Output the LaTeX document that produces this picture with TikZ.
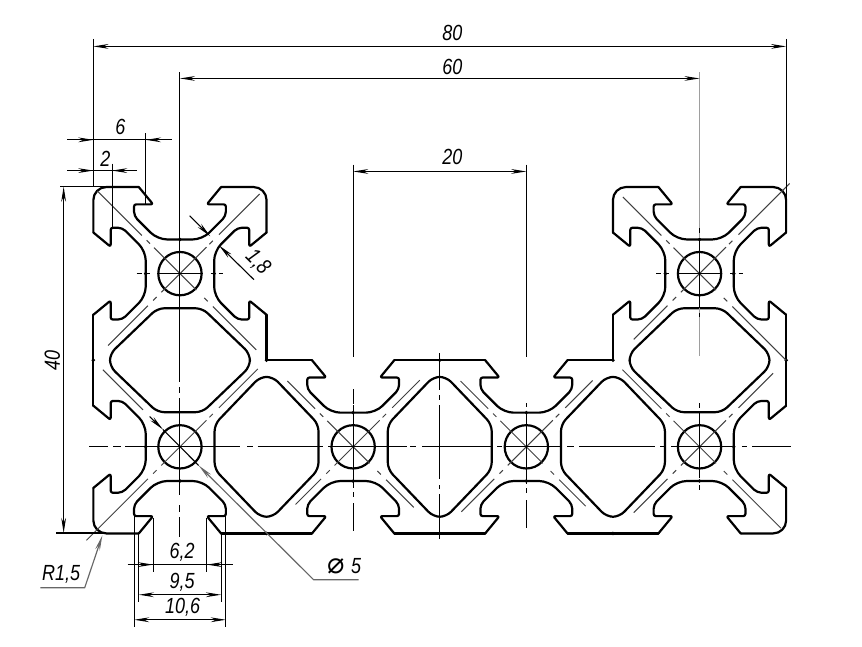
\documentclass[tikz,border=0pt]{standalone}
\usepackage{fontspec}
\setmainfont[FakeStretch=.82]{Liberation Sans}
\newfontfamily\symbfont{DejaVu Sans}
\usetikzlibrary{arrows.meta}
\tikzset{
        profile/.style={line width=.72pt, line cap=round, line join=round},
        thinline/.style={line width=.32pt, black!75},
        dimline/.style={line width=.36pt, >={Stealth[length=1.75mm,width=.55mm]}},
        leaderline/.style={line width=.38pt, black!60, >={Stealth[length=1.75mm,width=.55mm]}},
        dimtext/.style={font=\fontsize{7.2}{8}\selectfont\itshape, inner sep=0pt},
}
\begin{document}
\begin{tikzpicture}[x=1mm,y=1mm]
        \useasboundingbox (-10.78,-13) rectangle (88.76,61.6);
        % slots of the profile
        \foreach \cx/\cy/\ang in {10/30/0,10/30/90,10/30/270,70/30/0,70/30/90,70/30/270,10/10/90,10/10/180,
                30/10/0,30/10/180,50/10/0,50/10/180,70/10/180,70/10/270}
        {
        \begin{scope}[shift={(\cx,\cy)},rotate=\ang]
                \draw[profile] (-4.75,10) [rounded corners=.25mm] -- (-3.1,8) -- (-5.3,8) [rounded corners=.5mm] -- (-5.3,6.65)
                        [rounded corners=1.1mm] -- (-2.6,3.95) -- (2.6,3.95) [rounded corners=.5mm] -- (5.3,6.65)
                        [rounded corners=.25mm] -- (5.3,8) -- (3.1,8) [sharp corners] -- (4.75,10);
                \fill (0,3.95) circle[radius=.22];
        \end{scope}
        }
        % outer edges
        \draw[profile] (5.25,40) -- (1.5,40) arc[start angle=90,end angle=180,radius=1.5] -- (0,34.75);
        \draw[profile] (14.75,40) -- (18.5,40) arc[start angle=90,end angle=0,radius=1.5] -- (20,34.75);
        \draw[profile] (20,25.25) -- (20,20) -- (25.25,20);
        \draw[profile] (34.75,20) -- (45.25,20);
        \draw[profile] (54.75,20) -- (60,20) -- (60,25.25);
        \draw[profile] (60,34.75) -- (60,38.5) arc[start angle=180,end angle=90,radius=1.5] -- (65.25,40);
        \draw[profile] (74.75,40) -- (78.5,40) arc[start angle=90,end angle=0,radius=1.5] -- (80,34.75);
        \draw[profile] (80,25.25) -- (80,14.75);
        \draw[profile] (80,5.25) -- (80,1.5) arc[start angle=0,end angle=-90,radius=1.5] -- (74.75,0);
        \draw[profile] (65.25,0) -- (54.75,0);
        \draw[profile] (45.25,0) -- (34.75,0);
        \draw[profile] (25.25,0) -- (14.75,0);
        \draw[profile] (5.25,0) -- (1.5,0) arc[start angle=270,end angle=180,radius=1.5] -- (0,5.25);
        \draw[profile] (0,14.75) -- (0,25.25);
        \foreach \px/\py in {0/20,80/20,20/20,40/20,60/20,20/0,40/0,60/0}
                \fill (\px,\py) circle[radius=.22];
        % cavities
        \foreach \cx/\cy/\ang in {10/20/0,70/20/0,20/10/90,40/10/90,60/10/90}
                \draw[profile, rounded corners=.8mm, shift={(\cx,\cy)}, rotate=\ang] (-2.6,6) -- (2.6,6) -- (8.08,.75) -- (8.08,-.75)
                        -- (2.6,-6) -- (-2.6,-6) -- (-8.08,-.75) -- (-8.08,.75) -- cycle;
        % holes
        \foreach \cx/\cy in {10/30,70/30,10/10,30/10,50/10,70/10}
                \draw[profile] (\cx,\cy) circle[radius=2.5];
        % diagonals
        \foreach \cx/\cy/\sw/\ne in {10/30/-8.3/9.2,10/10/-10.8/9,30/10/-6.65/7.7,50/10/-7.5/7.65,70/10/-7.6/8.5,70/30/-7.6/10.4}
                \foreach \a/\b in {\sw/-3.7,-3.1/-2.7,-2.15/3.06,3.4/3.8,4.5/\ne}
                        \draw[thinline] ({\cx+\a},{\cy+\a}) -- ({\cx+\b},{\cy+\b});
        \foreach \cx/\cy/\nw/\se in {10/30/-9.54/8.8,30/10/-7.6/7,50/10/-7.6/6.85,70/10/-8.9/9.4,70/30/-8.85/10}
                \foreach \a/\b in {\nw/-4.4,-3.85/-3.46,-3/1.9,2.8/3.2,3.8/\se}
                        \draw[thinline] ({\cx+\a},{\cy-\a}) -- ({\cx+\b},{\cy-\b});
        % centre lines
        \foreach \a/\b in {-.46/1.73,2.31/3.2,3.7/16.97,17.75/18.44,18.97/26.56,27.14/36.26,36.6/37.3,38/46.04,46.65/47.23,47.6/54.16,
                54.73/55.54,56.12/64.9,65.47/66.17,66.74/73.79,74.9/75.5,76.06/80.56}
                \draw[dimline] (\a,10) -- (\b,10);
        \foreach \cx in {10,70}
                \foreach \a/\b in {-5/-4.4,-4/-3.5,-2.65/2.65,3.55/4.1,4.5/5}
                        \draw[dimline] ({\cx+\a},30) -- ({\cx+\b},30);
        \foreach \a/\b in {53.23/17.44,16.86/16.2,15.59/4.39,3.23/2.42,1.85/-.46}
                \draw[dimline] (10,\a) -- (10,\b);
        \foreach \a/\b in {42.6/20.36,16.63/15,14.8/5.2,4.73/4.16,3.46/.27}
                \draw[dimline] (30,\a) -- (30,\b);
        \foreach \a/\b in {20.82/16.51,15.94/15.44,14.78/6.32,5.54/5.08,4.5/-.61}
                \draw[dimline] (40,\a) -- (40,\b);
        \foreach \a/\b in {42.6/20.36,15.01/14.58,13.97/5.66,5.2/4.62,3.81/.66}
                \draw[dimline] (50,\a) -- (50,\b);
        \draw[line width=.6pt, black!38] (70,53.23) -- (70,20.47);
        \foreach \a/\b in {35.22/34.64,34.06/25.98,25.4/24.94,15.01/14.49,13.86/6.35,5.54/4.97}
                \draw[dimline] (70,\a) -- (70,\b);
        % dimensions above
        \draw[dimline] (0,57.1) -- (0,40);
        \draw[dimline] (80,57.1) -- (80,38.5);
        \draw[dimline,<->] (0,56.24) -- (80,56.24);
        \draw[dimline,<->] (10,52.54) -- (70,52.54);
        \draw[dimline,<->] (30,41.8) -- (50,41.8);
        \draw[dimline] (-3,45.45) -- (9.1,45.45);
        \draw[dimline,->] (-2.2,45.45) -- (0,45.45);
        \draw[dimline,->] (8.3,45.45) -- (6.07,45.45);
        \draw[dimline] (6.07,46.2) -- (6.07,38);
        \draw[dimline] (-3,41.9) -- (5.05,41.9);
        \draw[dimline,->] (-2.2,41.9) -- (0,41.9);
        \draw[dimline,->] (4.3,41.9) -- (2.16,41.9);
        \draw[dimline] (2.16,42.7) -- (2.16,35.4);
        % dimension on the left
        \draw[dimline] (-3.8,40.05) -- (1.5,40.05);
        \draw[dimline] (-4.27,.05) -- (1.5,.05);
        \draw[dimline,<->] (-3.43,.05) -- (-3.43,40.05);
        % dimension of the wall
        \draw[dimline,->] (11.12,36.69) -- (13.5,34.31);
        \draw[dimline,->] (18.54,29.31) -- (14.5,33.27);
        % dimensions below
        \draw[dimline] (3.97,-3.6) -- (16.13,-3.6);
        \draw[dimline,->] (4.8,-3.6) -- (6.9,-3.6);
        \draw[dimline,->] (15.3,-3.6) -- (13.1,-3.6);
        \draw[dimline] (6.9,1.8) -- (6.9,-4.47);
        \draw[dimline] (13.1,1.8) -- (13.1,-4.47);
        \draw[dimline,<->] (5.25,-7.08) -- (14.75,-7.08);
        \draw[dimline] (5.25,0) -- (5.25,-7.9);
        \draw[dimline] (14.75,0) -- (14.75,-7.9);
        \draw[dimline,<->] (4.7,-9.97) -- (15.3,-9.97);
        \draw[dimline] (4.7,2) -- (4.7,-10.8);
        \draw[dimline] (15.3,2) -- (15.3,-10.8);
        % leaders
        \draw[thinline] (1.1,18.9) -- (5.73,14.27);
        \draw[dimline,->] (6.5,13.5) -- (8.04,12);
        \draw[dimline] (8.04,12) -- (12.16,7.85);
        \draw[leaderline,<-] (12.16,7.85) -- (25.44,-5.35) -- (30.64,-5.35);
        \draw[leaderline,<-] (1.04,-.23) -- (-1,-6.27) -- (-6.12,-6.27);
        % labels
        \node[dimtext] (lab80) at (41.45,57.74) {80};
        \node[dimtext] (lab60) at (41.45,53.9) {60};
        \node[dimtext] (lab20) at (41.45,43.42) {20};
        \node[dimtext] (lab6) at (3.12,46.9) {6};
        \node[dimtext] (lab2) at (1.39,43.3) {2};
        \node[dimtext, rotate=90] (lab40) at (-4.73,19.98) {40};
        \node[dimtext, rotate=-45] (lab18) at (19,31.3) {1,8};
        \node[dimtext] (lab62) at (10.24,-2.16) {6,2};
        \node[dimtext] (lab95) at (10.24,-5.6) {9,5};
        \node[dimtext] (lab106) at (10.3,-8.5) {10,6};
        \node[dimtext] (labr) at (-3.73,-4.77) {R1,5};
        \node[dimtext] (labd) at (29,-3.81) {{\symbfont\upshape\fontsize{9.5}{9.5}\selectfont ⌀}\hspace{2pt}5};
\end{tikzpicture}
\end{document}
